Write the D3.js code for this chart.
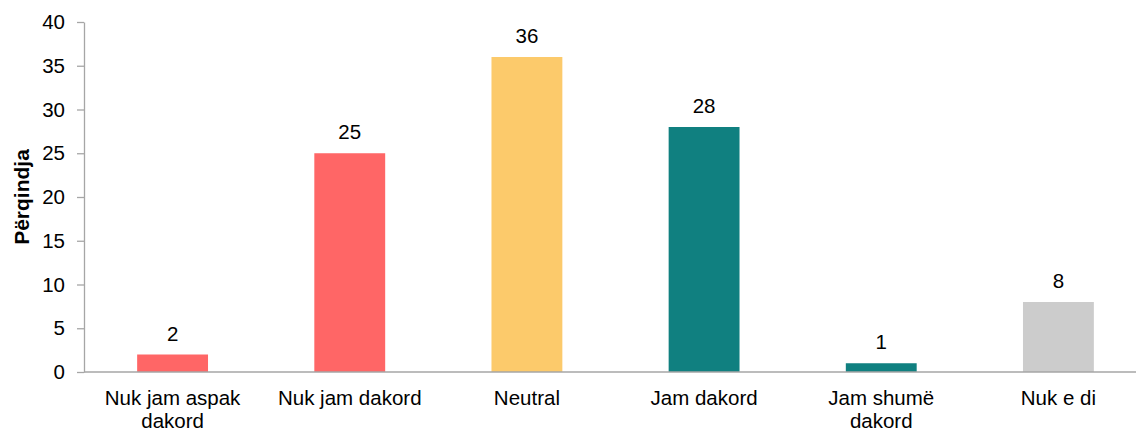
<!DOCTYPE html>
<html>
<head>
<meta charset="utf-8">
<script src="https://cdn.jsdelivr.net/npm/d3@7"></script>
<style>
  body { margin: 0; background: #fff; }
  text { font-family: "Liberation Sans", Arial, sans-serif; }
</style>
</head>
<body>
<script>
  // chart data
  var categories = [["Nuk jam aspak", "dakord"], ["Nuk jam dakord"], ["Neutral"], ["Jam dakord"], ["Jam shumë", "dakord"], ["Nuk e di"]];
  var values = [2, 25, 36, 28, 1, 8];
  var colors = ["#ff6666", "#ff6666", "#fcca6b", "#108080", "#108080", "#cccccc"];
  var yTicks = [0, 5, 10, 15, 20, 25, 30, 35, 40];

  var W = 1136, H = 430;
  var plotL = 84, plotR = 1147, plotT = 22, plotB = 372;
  var fs = 20.5;

  var svg = d3.select("body").append("svg")
    .attr("width", W)
    .attr("height", H);

  var x = d3.scaleBand()
    .domain(d3.range(values.length))
    .range([plotL, plotR])
    .padding(0);

  var y = d3.scaleLinear()
    .domain([0, 40])
    .range([plotB, plotT]);

  var barW = x.bandwidth() * 0.4;

  // y axis
  var yAxis = svg.append("g")
    .attr("transform", "translate(" + plotL + ",0)")
    .call(d3.axisLeft(y).tickValues(yTicks).tickSize(7).tickPadding(12).tickSizeOuter(0));
  yAxis.select(".domain").attr("stroke", "#a6a6a6").attr("stroke-width", 1.3);
  yAxis.selectAll(".tick line").attr("stroke", "#a6a6a6").attr("stroke-width", 1.3);
  yAxis.selectAll(".tick text")
    .attr("font-size", fs)
    .attr("fill", "#000")
    .style("font-family", "'Liberation Sans', Arial, sans-serif");

  svg.append("text")
    .attr("transform", "translate(29," + ((plotT + plotB) / 2) + ") rotate(-90)")
    .attr("text-anchor", "middle")
    .attr("font-size", 21)
    .attr("font-weight", "bold")
    .text("Përqindja");

  // bars
  svg.selectAll("rect.bar").data(values).enter()
    .append("rect")
    .attr("class", "bar")
    .attr("x", function(d, i){ return x(i) + (x.bandwidth() - barW) / 2; })
    .attr("y", function(d){ return y(d); })
    .attr("width", barW)
    .attr("height", function(d){ return y(0) - y(d); })
    .attr("fill", function(d, i){ return colors[i]; });

  // baseline
  svg.append("line")
    .attr("x1", plotL).attr("x2", plotR)
    .attr("y1", y(0)).attr("y2", y(0))
    .attr("stroke", "#a6a6a6")
    .attr("stroke-width", 1.3);

  // value labels
  svg.selectAll("text.val").data(values).enter()
    .append("text")
    .attr("class", "val")
    .attr("x", function(d, i){ return x(i) + x.bandwidth() / 2; })
    .attr("y", function(d){ return y(d) - 14; })
    .attr("text-anchor", "middle")
    .attr("font-size", fs)
    .text(function(d){ return d; });

  // category labels
  var cat = svg.selectAll("text.cat").data(categories).enter()
    .append("text")
    .attr("class", "cat")
    .attr("text-anchor", "middle")
    .attr("font-size", fs)
    .attr("transform", function(d, i){ return "translate(" + (x(i) + x.bandwidth() / 2) + "," + (plotB + 33) + ")"; });
  cat.selectAll("tspan").data(function(d){ return d; }).enter()
    .append("tspan")
    .attr("x", 0)
    .attr("dy", function(d, j){ return j ? 23 : 0; })
    .text(function(d){ return d; });
</script>
</body>
</html>
